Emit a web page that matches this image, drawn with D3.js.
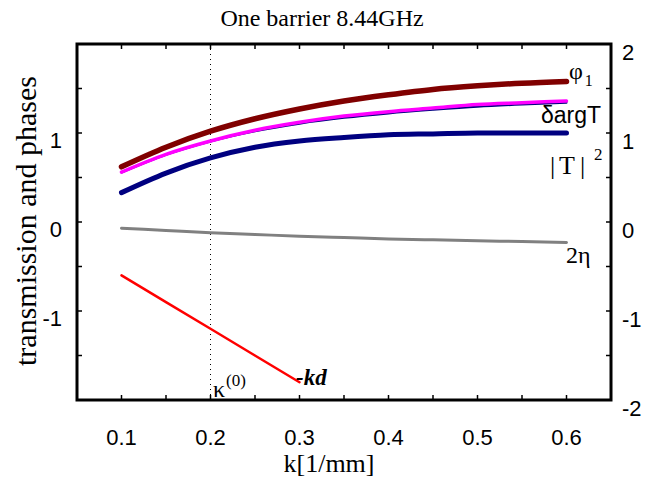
<!DOCTYPE html>
<html><head><meta charset="utf-8">
<script src="https://cdn.jsdelivr.net/npm/d3@7/dist/d3.min.js"></script>
<style>
html,body{margin:0;padding:0;background:#fff;}
svg{display:block;}
.serif{font-family:"Liberation Serif","Times New Roman",serif;}
.sans{font-family:"Liberation Sans",Arial,sans-serif;}
</style></head>
<body>
<svg id="c" width="645" height="479"></svg>
<script>
// ---- data ----
const kValues = [0.1, 0.15, 0.2, 0.25, 0.3, 0.35, 0.4, 0.45, 0.5, 0.55, 0.6];
const phi1    = [0.62, 0.84, 1.02, 1.16, 1.27, 1.36, 1.43, 1.49, 1.53, 1.56, 1.58];
const dargT   = [0.56, 0.76, 0.91, 1.03, 1.12, 1.19, 1.24, 1.28, 1.32, 1.34, 1.36];
const argTn   = [0.555, 0.755, 0.905, 1.02, 1.105, 1.17, 1.22, 1.26, 1.295, 1.32, 1.34];
const T2      = [0.33, 0.55, 0.72, 0.84, 0.91, 0.95, 0.98, 0.99, 1.00, 1.00, 1.00];
const eta2    = [-0.07, -0.095, -0.12, -0.14, -0.16, -0.175, -0.19, -0.20, -0.21, -0.22, -0.23];
const kdK     = [0.1, 0.2, 0.3];
const minusKd = [-0.6, -1.2, -1.8];
const kappa0  = 0.2;
const xTicks  = [0.1, 0.2, 0.3, 0.4, 0.5, 0.6];
const yLeftTicks  = [-1, 0, 1];
const yRightTicks = [-2, -1, 0, 1, 2];

const svg = d3.select("#c");
const L = 77, R = 611, T = 44, B = 400;
const x = d3.scaleLinear().domain([0.05, 0.65]).range([L, R]);
const y = d3.scaleLinear().domain([-2, 2]).range([B, T]);

// minor ticks (inward) on all sides
const xMinor = d3.range(0.05, 0.6501, 0.05);
const yMinor = d3.range(-2, 2.001, 0.5);
const tk = svg.append("g").attr("stroke", "#000").attr("stroke-width", 1.5);
xMinor.forEach(v => {
  tk.append("line").attr("x1", x(v)).attr("x2", x(v)).attr("y1", B).attr("y2", B - 5);
  tk.append("line").attr("x1", x(v)).attr("x2", x(v)).attr("y1", T).attr("y2", T + 5);
});
yMinor.forEach(v => {
  tk.append("line").attr("x1", L).attr("x2", L + 5).attr("y1", y(v)).attr("y2", y(v));
  tk.append("line").attr("x1", R).attr("x2", R - 5).attr("y1", y(v)).attr("y2", y(v));
});

// dotted kappa0 line
svg.append("line").attr("x1", x(kappa0)).attr("x2", x(kappa0)).attr("y1", T).attr("y2", B)
  .attr("stroke", "#000").attr("stroke-width", 1).attr("stroke-dasharray", "1,4");

// curves
const line = d3.line().x(d => x(d[0])).y(d => y(d[1])).curve(d3.curveMonotoneX);
function draw(xs, ys, color, w) {
  svg.append("path").datum(xs.map((v, i) => [v, ys[i]]))
    .attr("d", line).attr("fill", "none").attr("stroke", color)
    .attr("stroke-width", w).attr("stroke-linecap", "round");
}
draw(kValues, eta2, "#808080", 3);
draw(kValues, T2, "#000080", 5);
draw(kValues, phi1, "#800000", 5.5);
draw(kValues, argTn, "#000080", 2);
draw(kValues, dargT, "#ff00ff", 3.5);
draw(kdK, minusKd, "#ff0000", 2.5);

// frame
svg.append("rect").attr("x", L).attr("y", T).attr("width", R - L).attr("height", B - T)
  .attr("fill", "none").attr("stroke", "#000").attr("stroke-width", 3);

// tick labels
svg.append("g").selectAll("text").data(xTicks).join("text")
  .attr("class", "sans").attr("x", d => x(d)).attr("y", 445)
  .attr("text-anchor", "middle").attr("font-size", 22).text(d => d.toFixed(1));
svg.append("g").selectAll("text").data(yLeftTicks).join("text")
  .attr("class", "sans").attr("x", 62).attr("y", d => y(d) + 15)
  .attr("text-anchor", "end").attr("font-size", 22).text(d => d);
svg.append("g").selectAll("text").data(yRightTicks).join("text")
  .attr("class", "sans").attr("x", 622).attr("y", d => y(d) + 16)
  .attr("text-anchor", "start").attr("font-size", 22).text(d => d);

// titles
svg.append("text").attr("class", "serif").attr("x", 322).attr("y", 26)
  .attr("text-anchor", "middle").attr("font-size", 24).text("One barrier 8.44GHz");
svg.append("text").attr("class", "serif").attr("x", 329).attr("y", 472)
  .attr("text-anchor", "middle").attr("font-size", 26).text("k[1/mm]");
svg.append("text").attr("class", "serif")
  .attr("transform", "translate(36,221) rotate(-90)")
  .attr("text-anchor", "middle").attr("font-size", 30).text("transmission and phases");

// curve labels
const t1 = svg.append("text").attr("class", "serif").attr("x", 569).attr("y", 79).attr("font-size", 24);
t1.append("tspan").text("φ");
t1.append("tspan").attr("font-size", 16).attr("dy", 7).attr("dx", 2).text("1");
svg.append("text").attr("class", "sans").attr("x", 541).attr("y", 123).attr("font-size", 23).text("δargT");
const t3 = svg.append("text").attr("class", "serif").attr("y", 174).attr("font-size", 26);
t3.append("tspan").attr("x", 550).text("|");
t3.append("tspan").attr("x", 559).text("T");
t3.append("tspan").attr("x", 580).text("|");
t3.append("tspan").attr("x", 594).attr("dy", -14).attr("font-size", 17).text("2");
svg.append("text").attr("class", "serif").attr("x", 566).attr("y", 263).attr("font-size", 24).text("2η");
svg.append("text").attr("class", "serif").attr("x", 296).attr("y", 385).attr("font-size", 23)
  .attr("font-weight", "bold").attr("font-style", "italic").text("-kd");
const t6 = svg.append("text").attr("class", "serif").attr("x", 213).attr("y", 397).attr("font-size", 24);
t6.append("tspan").text("κ");
t6.append("tspan").attr("font-size", 17).attr("dy", -11).attr("dx", 1).text("(0)");
</script>
</body></html>
